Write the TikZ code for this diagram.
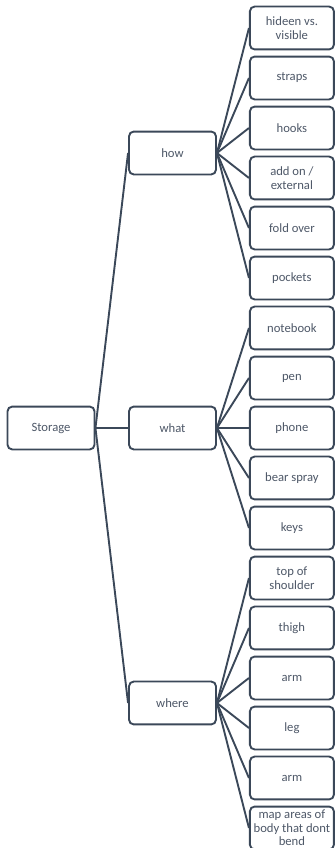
\documentclass[tikz,border=0pt]{standalone}
\usepackage{fontspec}
\setmainfont{Carlito}
\definecolor{slateline}{RGB}{59,72,89}
\definecolor{slatetext}{RGB}{78,88,104}
\usepackage{tikz}

\begin{document}
\begin{tikzpicture}[
  topicbox/.style={draw=slateline,fill=white,line width=1.8pt,rounded corners=4.5pt,
               minimum width=2.9cm,minimum height=1.43cm,inner sep=1pt,
               font=\fontsize{12}{12.8}\selectfont,text=slatetext,align=center},
  leafbox/.style={topicbox,minimum width=2.8cm},
  link/.style={slateline,line width=1.8pt}]

  \useasboundingbox (0,0) rectangle (11.2,-28.267);

  % root and branches
  \node[topicbox] (storage) at (1.7,-14.267)  {Storage};
  \node[topicbox] (how)     at (5.75,-5.1)    {how};
  \node[topicbox] (what)    at (5.75,-14.267) {what};
  \node[topicbox] (where)   at (5.75,-23.433) {where};

  % how
  \node[leafbox] (hidden)   at (9.73,-0.933)  {hideen vs.\\visible};
  \node[leafbox] (straps)   at (9.73,-2.6)    {straps};
  \node[leafbox] (hooks)    at (9.73,-4.267)  {hooks};
  \node[leafbox] (addon)    at (9.73,-5.933)  {add on /\\external};
  \node[leafbox] (foldover) at (9.73,-7.6)    {fold over};
  \node[leafbox] (pockets)  at (9.73,-9.267)  {pockets};
  % what
  \node[leafbox] (notebook) at (9.73,-10.933) {notebook};
  \node[leafbox] (pen)      at (9.73,-12.6)   {pen};
  \node[leafbox] (phone)    at (9.73,-14.267) {phone};
  \node[leafbox] (bear)     at (9.73,-15.933) {bear spray};
  \node[leafbox] (keys)     at (9.73,-17.6)   {keys};
  % where
  \node[leafbox] (shoulder) at (9.73,-19.267) {top of\\shoulder};
  \node[leafbox] (thigh)    at (9.73,-20.933) {thigh};
  \node[leafbox] (armA)     at (9.73,-22.6)   {arm};
  \node[leafbox] (leg)      at (9.73,-24.267) {leg};
  \node[leafbox] (armB)     at (9.73,-25.933) {arm};
  \node[leafbox] (maparea)  at (9.73,-27.6)   {map areas of\\body that dont\\bend};

  \draw[link] (storage.east) -- (how.west);
  \draw[link] (storage.east) -- (what.west);
  \draw[link] (storage.east) -- (where.west);

  \draw[link] (how.east) -- (hidden.west);
  \draw[link] (how.east) -- (straps.west);
  \draw[link] (how.east) -- (hooks.west);
  \draw[link] (how.east) -- (addon.west);
  \draw[link] (how.east) -- (foldover.west);
  \draw[link] (how.east) -- (pockets.west);

  \draw[link] (what.east) -- (notebook.west);
  \draw[link] (what.east) -- (pen.west);
  \draw[link] (what.east) -- (phone.west);
  \draw[link] (what.east) -- (bear.west);
  \draw[link] (what.east) -- (keys.west);

  \draw[link] (where.east) -- (shoulder.west);
  \draw[link] (where.east) -- (thigh.west);
  \draw[link] (where.east) -- (armA.west);
  \draw[link] (where.east) -- (leg.west);
  \draw[link] (where.east) -- (armB.west);
  \draw[link] (where.east) -- (maparea.west);
\end{tikzpicture}
\end{document}
